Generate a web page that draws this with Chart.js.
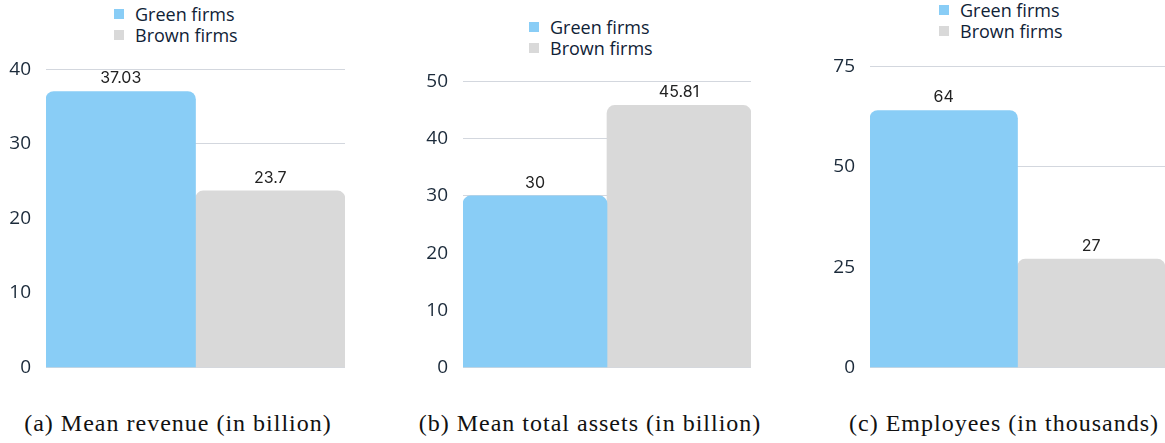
<!DOCTYPE html>
<html>
<head>
<meta charset="utf-8">
<script src="https://cdn.jsdelivr.net/npm/chart.js@4.4.0/dist/chart.umd.min.js"></script>
<style>
  body { margin: 0; background: #fff; width: 1165px; height: 443px; overflow: hidden; position: relative; }
  canvas { position: absolute; }
  .legend { position: absolute; font-family: "Open Sans", sans-serif; font-size: 18px; color: #102236; line-height: 21px; }
  .legend div { position: relative; padding-left: 21px; white-space: nowrap; }
  .legend span { position: absolute; left: 0; top: 5px; width: 10px; height: 10px; }
  .caption { position: absolute; top: 410px; font-family: "Liberation Serif", serif; font-size: 24px; letter-spacing: 1px; color: #111; text-align: center; white-space: nowrap; }
</style>
</head>
<body>
<div class="legend" id="legA" style="left:114px; top:4px;"></div>
<div class="legend" id="legB" style="left:529px; top:17px;"></div>
<div class="legend" id="legC" style="left:939px; top:0px;"></div>

<canvas id="chartA" width="350" height="351" style="left:0px; top:43px;"></canvas>
<canvas id="chartB" width="360" height="339" style="left:400px; top:55px;"></canvas>
<canvas id="chartC" width="355" height="354" style="left:810px; top:40px;"></canvas>

<div class="caption" style="left:0px; width:356px;">(a) Mean revenue (in billion)</div>
<div class="caption" style="left:410px; width:360px;">(b) Mean total assets (in billion)</div>
<div class="caption" style="left:834px; width:340px;">(c) Employees (in thousands)</div>

<script>
const seriesNames = ['Green firms', 'Brown firms'];
const seriesColors = ['#89CDF6', '#D9D9D9'];

const revenue = [37.03, 23.7];
const assets = [30, 45.81];
const employees = [64, 27];

const revenueTicks = [0, 10, 20, 30, 40];
const assetsTicks = [0, 10, 20, 30, 40, 50];
const employeesTicks = [0, 25, 50, 75];

// draw the value above each bar
const valueLabels = {
    id: 'valueLabels',
    afterDatasetsDraw(chart) {
        const ctx = chart.ctx;
        ctx.save();
        ctx.font = '16px Inter, sans-serif';
        ctx.fillStyle = '#222';
        ctx.textAlign = 'center';
        ctx.textBaseline = 'bottom';
        chart.data.datasets.forEach((ds, i) => {
            chart.getDatasetMeta(i).data.forEach((bar, j) => {
                ctx.fillText(String(ds.data[j]), bar.x, bar.y - 5);
            });
        });
        ctx.restore();
    }
};

function buildLegend(id) {
    const el = document.getElementById(id);
    seriesNames.forEach((name, i) => {
        const row = document.createElement('div');
        row.innerHTML = '<span style="background:' + seriesColors[i] + '"></span>' + name;
        el.appendChild(row);
    });
}

function makeChart(id, values, ticks, axisWidth, pad) {
    const datasets = seriesNames.map((name, i) => ({
        label: name,
        data: [values[i]],
        backgroundColor: seriesColors[i],
        borderRadius: 8,
        borderSkipped: 'start',
        barPercentage: 1,
        categoryPercentage: 1
    }));
    return new Chart(document.getElementById(id), {
        type: 'bar',
        data: { labels: [''], datasets: datasets },
        options: {
            responsive: false,
            animation: false,
            layout: { padding: pad },
            plugins: { legend: { display: false }, tooltip: { enabled: false } },
            scales: {
                x: { display: false },
                y: {
                    min: ticks[0],
                    max: ticks[ticks.length - 1],
                    afterBuildTicks: axis => { axis.ticks = ticks.map(v => ({ value: v })); },
                    afterFit: axis => { axis.width = axisWidth; },
                    border: { display: false },
                    grid: { color: '#D3D7DE', drawTicks: false },
                    ticks: {
                        padding: 15,
                        color: '#1B2A3A',
                        font: { family: 'Open Sans', size: 19 }
                    }
                }
            }
        },
        plugins: [valueLabels]
    });
}

buildLegend('legA');
buildLegend('legB');
buildLegend('legC');

makeChart('chartA', revenue, revenueTicks, 46, { top: 20, bottom: 23, left: 0, right: 5 });
makeChart('chartB', assets, assetsTicks, 63, { top: 20, bottom: 23, left: 0, right: 9 });
makeChart('chartC', employees, employeesTicks, 60, { top: 20, bottom: 24, left: 0, right: 0 });
</script>
</body>
</html>
